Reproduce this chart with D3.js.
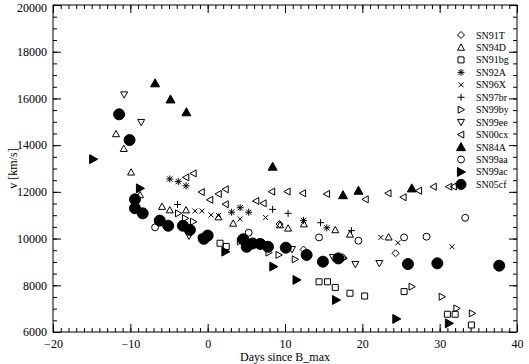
<!DOCTYPE html>
<html>
<head>
<meta charset="utf-8">
<script src="https://cdn.jsdelivr.net/npm/d3@7"></script>
<style>
  body { margin: 0; background: #fff; }
  text { font-family: "Liberation Serif", "DejaVu Serif", serif; fill: #000; }
</style>
</head>
<body>
<div id="chart"></div>
<script>
// supernova names, in legend order
var names = ["SN91T", "SN94D", "SN91bg", "SN92A", "SN96X", "SN97br", "SN99by",
             "SN99ee", "SN00cx", "SN84A", "SN99aa", "SN99ac", "SN05cf"];

// [days since B max, velocity km/s]
var sn91t = [[-0.4, 10050], [9.3, 10620], [12.4, 9530], [17.5, 9200], [24.3, 9370]];
var sn94d = [[-11.85, 14480], [-10.85, 13850], [-9.9, 12840], [-8.75, 11870], [-5.9, 11370],
             [-4.9, 11220], [-2.8, 11220], [1.4, 10920], [3.3, 10650], [9.35, 10580],
             [10.4, 10440], [12.45, 10620], [16.5, 10370], [18.4, 10180], [23.4, 10060]];
var sn91bg = [[1.6, 9800], [2.4, 9660], [6.4, 9800], [14.4, 8150], [15.5, 8150], [16.5, 7910],
              [18.4, 7660], [20.3, 7540], [25.4, 7730], [31.0, 6760], [32.0, 6760], [34.1, 6300]];
var sn92a = [[-4.9, 12550], [-3.8, 12440], [-2.8, 12260], [3.1, 11130], [4.2, 11320],
             [5.3, 11130], [12.4, 10780], [15.4, 10460]];
var sn96x = [[-1.65, 11180], [-0.75, 11180], [0.45, 11010], [1.4, 10990], [4.2, 10840],
             [7.5, 10900], [22.4, 10050], [24.6, 9820], [31.6, 9650]];
var sn97br = [[-3.9, 11460], [8.4, 11250], [10.4, 11080], [14.6, 10680], [18.6, 10340]];
var sn99by = [[-3.8, 11080], [-2.9, 10870], [-1.85, 10720], [4.2, 9880], [7.9, 9400],
              [9.2, 9300], [11.3, 9110], [17.6, 9150], [26.4, 7940], [30.3, 7510],
              [32.2, 7010], [34.2, 6800]];
var sn99ee = [[-10.8, 16160], [-8.6, 14980], [-2.4, 10110], [10.9, 9540], [16.2, 9200],
              [19.1, 8900], [22.2, 8940]];
var sn00cx = [[-2.8, 12620], [-1.85, 12790], [-0.8, 11990], [0.3, 11660], [1.4, 11910],
              [2.3, 12110], [2.3, 11470], [6.25, 11610], [7.2, 11510], [8.3, 12010],
              [10.3, 12010], [12.3, 11940], [15.4, 11910], [20.4, 11680], [23.35, 11940],
              [25.3, 11770], [27.3, 12050], [29.2, 12220], [31.2, 12220], [31.8, 12230]];
var sn84a = [[-6.8, 16650], [-4.8, 15960], [-2.75, 15410], [8.4, 13080], [17.5, 11860],
             [19.5, 12050], [26.4, 12150]];
var sn99aa = [[-6.8, 10480], [-0.8, 10050], [5.3, 10250], [14.4, 10050], [19.5, 9910],
              [25.4, 10050], [28.3, 10080], [33.3, 10890]];
var sn99ac = [[-14.8, 13400], [-8.75, 12150], [2.3, 9440], [8.5, 8800], [11.5, 8230],
              [16.6, 7370], [24.4, 6560], [31.2, 6370]];
var sn05cf = [[-11.45, 15320], [-10.1, 14220], [-9.4, 11680], [-9.4, 11300], [-8.4, 11080],
              [-6.2, 10770], [-5.1, 10550], [-3.2, 10550], [-2.3, 10370], [-0.5, 9990],
              [0.0, 10130], [4.6, 9970], [5.05, 9650], [5.8, 9790], [6.8, 9770], [7.8, 9650],
              [10.1, 9610], [12.8, 9300], [14.9, 9010], [16.9, 9150], [25.9, 8910],
              [29.7, 8940], [37.7, 8840]];

var xTicks = [-20, -10, 0, 10, 20, 30, 40];
var yTicks = [6000, 8000, 10000, 12000, 14000, 16000, 18000, 20000];

var svgWidth = 529;
var svgHeight = 364;
var margin = { top: 5, right: 12, bottom: 32, left: 53 };
var width = svgWidth - margin.left - margin.right;
var height = svgHeight - margin.top - margin.bottom;

var svg = d3.select("#chart")
    .append("svg")
    .attr("width", svgWidth)
    .attr("height", svgHeight);

var chartGroup = svg.append("g")
    .attr("transform", `translate(${margin.left}, ${margin.top})`);

var xScale = d3.scaleLinear().domain([-20, 40]).range([0, width]);
var yScale = d3.scaleLinear().domain([6000, 20000]).range([height, 0]);

// custom symbol shapes, size = half-width squared
function shape(fn) {
  return { draw: function(ctx, size) { fn(ctx, Math.sqrt(size)); } };
}
function poly(ctx, pts) {
  ctx.moveTo(pts[0][0], pts[0][1]);
  for (var i = 1; i < pts.length; i++) ctx.lineTo(pts[i][0], pts[i][1]);
  ctx.closePath();
}
var diamond = shape((c, s) => poly(c, [[0, -s], [s, 0], [0, s], [-s, 0]]));
var triUp = shape((c, s) => poly(c, [[0, -s], [s, 0.8 * s], [-s, 0.8 * s]]));
var triDown = shape((c, s) => poly(c, [[0, s], [s, -0.8 * s], [-s, -0.8 * s]]));
var triRight = shape((c, s) => poly(c, [[s, 0], [-0.8 * s, -s], [-0.8 * s, s]]));
var triLeft = shape((c, s) => poly(c, [[-s, 0], [0.8 * s, -s], [0.8 * s, s]]));
var square = shape((c, s) => poly(c, [[-s, -s], [s, -s], [s, s], [-s, s]]));
var cross = shape(function(c, s) {
  c.moveTo(-s, -s); c.lineTo(s, s); c.moveTo(-s, s); c.lineTo(s, -s);
});
var plus = shape(function(c, s) {
  c.moveTo(-s, 0); c.lineTo(s, 0); c.moveTo(0, -s); c.lineTo(0, s);
});
var star = shape(function(c, s) {
  var k = s * 0.75;
  c.moveTo(-s, 0); c.lineTo(s, 0); c.moveTo(0, -s); c.lineTo(0, s);
  c.moveTo(-k, -k); c.lineTo(k, k); c.moveTo(-k, k); c.lineTo(k, -k);
});

var series = [
  { name: names[0], data: sn91t, type: diamond, size: 12.25, fill: false },
  { name: names[1], data: sn94d, type: triUp, size: 12.25, fill: false },
  { name: names[2], data: sn91bg, type: square, size: 9, fill: false },
  { name: names[3], data: sn92a, type: star, size: 12.25, fill: false },
  { name: names[4], data: sn96x, type: cross, size: 6.25, fill: false },
  { name: names[5], data: sn97br, type: plus, size: 12.25, fill: false },
  { name: names[6], data: sn99by, type: triRight, size: 12.25, fill: false },
  { name: names[7], data: sn99ee, type: triDown, size: 12.25, fill: false },
  { name: names[8], data: sn00cx, type: triLeft, size: 12.25, fill: false },
  { name: names[9], data: sn84a, type: triUp, size: 20, fill: true },
  { name: names[10], data: sn99aa, type: d3.symbolCircle, size: 38, fill: false },
  { name: names[11], data: sn99ac, type: triRight, size: 20, fill: true },
  { name: names[12], data: sn05cf, type: d3.symbolCircle, size: 95, fill: true }
];

// frame
chartGroup.append("rect")
  .attr("width", width)
  .attr("height", height)
  .attr("fill", "none")
  .attr("stroke", "#000");

// ticks (inward) on all four sides
function tickAxis(axis, values, len, translate, labels) {
  var g = chartGroup.append("g")
    .attr("transform", translate)
    .call(axis.tickValues(values).tickSize(-len).tickSizeOuter(0)
      .tickFormat(labels ? d3.format("d") : ""));
  g.select(".domain").remove();
  g.attr("font-family", null).attr("font-size", null);
  g.selectAll("line").attr("stroke", "#000");
  g.selectAll("text").style("font-size", "12px");
  return g;
}
var xMinor = d3.range(-20, 41, 1);
var yMinor = d3.range(6000, 20001, 500);

tickAxis(d3.axisBottom(xScale).tickPadding(7), xMinor, 4, `translate(0, ${height})`, false);
tickAxis(d3.axisBottom(xScale).tickPadding(7), xTicks, 8, `translate(0, ${height})`, true);
tickAxis(d3.axisTop(xScale), xMinor, 4, "translate(0, 0)", false);
tickAxis(d3.axisTop(xScale), xTicks, 8, "translate(0, 0)", false);
tickAxis(d3.axisLeft(yScale).tickPadding(6), yMinor, 4, "translate(0, 0)", false);
tickAxis(d3.axisLeft(yScale).tickPadding(6), yTicks, 8, "translate(0, 0)", true)
  .selectAll("text").filter(d => d === 20000).attr("dy", "0.5em");
tickAxis(d3.axisRight(yScale), yMinor, 4, `translate(${width}, 0)`, false);
tickAxis(d3.axisRight(yScale), yTicks, 8, `translate(${width}, 0)`, false);

// data points
series.forEach(function(s) {
  chartGroup.append("g").selectAll("path")
    .data(s.data)
    .enter()
    .append("path")
    .attr("transform", d => `translate(${xScale(d[0])}, ${yScale(d[1])})`)
    .attr("d", d3.symbol().type(s.type).size(s.size))
    .attr("fill", s.fill ? "#000" : "none")
    .attr("stroke", "#000")
    .attr("stroke-width", 1);
});

// legend
var legend = svg.append("g").attr("transform", "translate(461, 35)");
var rows = legend.selectAll("g")
  .data(series)
  .enter()
  .append("g")
  .attr("transform", (d, i) => `translate(0, ${i * 12.45})`);
rows.append("path")
  .attr("d", d => d3.symbol().type(d.type).size(d.type === d3.symbolCircle && d.fill ? 80 : d.size)())
  .attr("fill", d => d.fill ? "#000" : "none")
  .attr("stroke", "#000");
rows.append("text")
  .attr("x", 15)
  .attr("y", 3.5)
  .style("font-size", "10px")
  .text(d => d.name);

// axis labels
svg.append("text")
  .attr("transform", `translate(${margin.left + width / 2}, 361)`)
  .attr("text-anchor", "middle")
  .style("font-size", "12px")
  .text("Days since B_max");

svg.append("text")
  .attr("transform", `translate(17, ${margin.top + height / 2}) rotate(-90)`)
  .attr("text-anchor", "middle")
  .style("font-size", "12px")
  .text("v [km/s]");
</script>
</body>
</html>
